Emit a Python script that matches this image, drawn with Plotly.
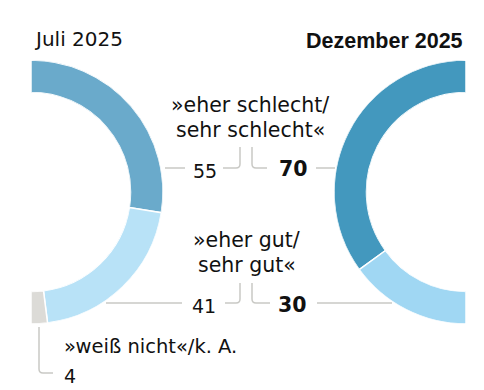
import plotly.graph_objects as go

# ---- data ----
categories = ["»eher schlecht/sehr schlecht«", "»eher gut/sehr gut«", "»weiß nicht«/k. A."]
juli_values = [55, 41, 4]
dez_values = [70, 30]
juli_colors = ["#6aaacb", "#b8e2f7", "#dcdbd7"]
dez_colors = ["#4398be", "#a0d7f3"]
period_labels = ["Juli 2025", "Dezember 2025"]

W, H = 484, 390
FONT = "DejaVu Sans, Arial, sans-serif"
BOLD_TITLE = "Liberation Sans, Arial, sans-serif"
BOLD_NUM = "DejaVu Sans, Arial, sans-serif"
LINE = "#c9c9c5"


def half_donut(values, start, sign):
    thetas, widths = [], []
    cum = 0
    for v in values:
        thetas.append(start + sign * (cum + v / 2) * 1.8)
        widths.append(v * 1.8)
        cum += v
    return thetas, widths


fig = go.Figure()

lt, lw = half_donut(juli_values, 90, -1)
fig.add_trace(go.Barpolar(
    r=[1] * len(juli_values), theta=lt, width=lw,
    marker=dict(color=juli_colors, line=dict(color="white", width=1.5)),
    subplot="polar", hoverinfo="skip", showlegend=False,
))
rt, rw = half_donut(dez_values, 90, 1)
fig.add_trace(go.Barpolar(
    r=[1] * len(dez_values), theta=rt, width=rw,
    marker=dict(color=dez_colors, line=dict(color="white", width=1.5)),
    subplot="polar2", hoverinfo="skip", showlegend=False,
))

R = 132
hole = 99.5 / R
cxL, cxR, cy = 31, 466, 192


def px_dom_x(a, b):
    return [a / W, b / W]


def px_dom_y(top, bottom):
    return [(H - bottom) / H, (H - top) / H]


polar_common = dict(
    hole=hole,
    bgcolor="rgba(0,0,0,0)",
    radialaxis=dict(visible=False, range=[0, 1]),
    angularaxis=dict(visible=False, rotation=0, direction="counterclockwise"),
)

fig.update_layout(
    width=W, height=H,
    margin=dict(l=0, r=0, t=0, b=0),
    paper_bgcolor="white", plot_bgcolor="white",
    polar=dict(domain=dict(x=px_dom_x(cxL, cxL + R), y=px_dom_y(cy - R, cy + R)),
               sector=[-90, 90], **polar_common),
    polar2=dict(domain=dict(x=px_dom_x(cxR - R, cxR), y=px_dom_y(cy - R, cy + R)),
                sector=[90, 270], **polar_common),
    xaxis=dict(range=[0, W], visible=False, fixedrange=True),
    yaxis=dict(range=[H, 0], visible=False, fixedrange=True),
    showlegend=False,
)

# leader lines (pixel coordinates on the hidden cartesian axes)
paths = [
    "M 165,168 L 185,168",
    "M 223,168 L 236,168 Q 240,168 240,164 L 240,147",
    "M 252,147 L 252,164 Q 252,168 256,168 L 267,168",
    "M 316,168 L 335,168",
    "M 106,303 L 182,303",
    "M 225,303 L 236,303 Q 240,303 240,299 L 240,283",
    "M 252,283 L 252,299 Q 252,303 256,303 L 270,303",
    "M 317,303 L 392,303",
    "M 39,327 L 39,369 Q 39,373 43,373 L 53,373",
]
for p in paths:
    fig.add_shape(type="path", path=p, xref="x", yref="y",
                  line=dict(color=LINE, width=1.5))


def txt(x, y, s, size, xanchor="center", family=FONT, bold=False, color="#111111"):
    fig.add_annotation(
        x=x, y=y, xref="x", yref="y", text=s, showarrow=False,
        xanchor=xanchor, yanchor="middle",
        font=dict(family=family, size=size, color=color,
                  weight="bold" if bold else "normal"),
    )


txt(32, 39, period_labels[0], 20, xanchor="left")
txt(465, 40.5, period_labels[1], 21.5, xanchor="right", family=BOLD_TITLE, bold=True)

txt(250, 105, "»eher schlecht/", 20.5)
txt(250, 130, "sehr schlecht«", 20.5)
txt(204.5, 171, str(juli_values[0]), 19)
txt(293, 169, str(dez_values[0]), 20.5, family=BOLD_NUM, bold=True)

txt(246, 239.5, "»eher gut/", 20.5)
txt(247, 265, "sehr gut«", 20.5)
txt(203.5, 305.5, str(juli_values[1]), 19)
txt(292, 304.5, str(dez_values[1]), 20.5, family=BOLD_NUM, bold=True)

txt(62, 346.5, categories[2], 19.5, xanchor="left")
txt(62, 375.5, str(juli_values[2]), 19, xanchor="left")

fig.write_html("out.html", config={"displayModeBar": False, "staticPlot": True},
               post_script="document.body.style.margin='0';")
